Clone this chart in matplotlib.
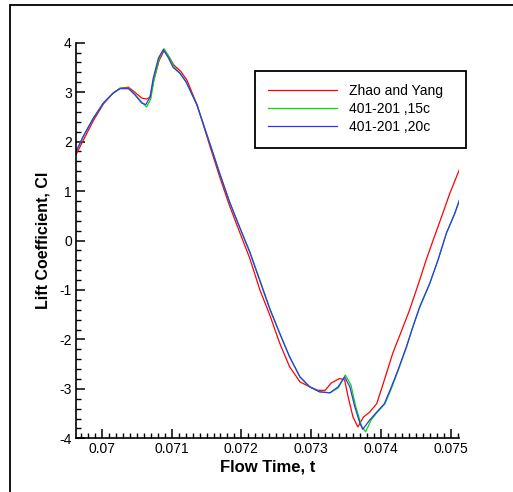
import matplotlib.pyplot as plt
import matplotlib.patches as patches
from matplotlib.ticker import MultipleLocator

plt.rcParams['font.family'] = ['Liberation Sans', 'DejaVu Sans']
plt.rcParams['axes.unicode_minus'] = False

# Zhao and Yang (red)
t_red = [0.06963, 0.06973, 0.069875, 0.07002, 0.07016, 0.07026, 0.07038, 0.07047,
         0.07057, 0.07064, 0.07069, 0.07074, 0.07082, 0.07089, 0.07096, 0.07103,
         0.07113, 0.07122, 0.07137, 0.07155, 0.07169, 0.07183, 0.07198, 0.07212,
         0.07226, 0.07241, 0.07255, 0.07269, 0.07284, 0.07298, 0.07310, 0.07320,
         0.07329, 0.07341, 0.07348, 0.07353, 0.07360, 0.07367, 0.07375, 0.07384,
         0.07394, 0.07405, 0.07417, 0.07432, 0.07441, 0.074556, 0.07465, 0.07475,
         0.07487, 0.07499, 0.07513]
cl_red = [1.74, 2.02, 2.42, 2.76, 2.98, 3.08, 3.10, 3.00,
          2.88, 2.86, 2.90, 3.22, 3.64, 3.84, 3.72, 3.55,
          3.42, 3.24, 2.72, 1.90, 1.28, 0.70, 0.15, -0.36,
          -0.98, -1.52, -2.08, -2.55, -2.86, -2.96, -3.03, -3.03,
          -2.88, -2.79, -2.82, -3.16, -3.57, -3.77, -3.57, -3.47,
          -3.30, -2.82, -2.28, -1.74, -1.41, -0.80, -0.39, 0.01,
          0.48, 0.96, 1.45]

# 401-201, 15c (green)
t_green = [0.06963, 0.06973, 0.069875, 0.07002, 0.07016, 0.07026, 0.07038, 0.07047,
           0.07057, 0.07064, 0.07070, 0.070745, 0.07082, 0.07089, 0.07096, 0.07103,
           0.07112, 0.07121, 0.07136, 0.07155, 0.07169, 0.07183, 0.07198, 0.07212,
           0.07226, 0.07241, 0.07255, 0.07269, 0.07284, 0.07298, 0.07312, 0.07327,
           0.07339, 0.07349, 0.07357, 0.07364, 0.07372, 0.07378, 0.07386, 0.07395,
           0.07406, 0.07416, 0.07425, 0.07437, 0.07446, 0.074556, 0.07470, 0.07482,
           0.07494, 0.07506, 0.07513]
cl_green = [1.80, 2.10, 2.47, 2.78, 2.98, 3.08, 3.08, 2.96,
            2.80, 2.70, 2.86, 3.24, 3.68, 3.88, 3.72, 3.52,
            3.38, 3.20, 2.75, 1.95, 1.35, 0.78, 0.25, -0.22,
            -0.78, -1.38, -1.88, -2.35, -2.76, -2.96, -3.06, -3.08,
            -2.98, -2.72, -2.92, -3.36, -3.74, -3.87, -3.63, -3.47,
            -3.30, -2.96, -2.62, -2.15, -1.74, -1.36, -0.87, -0.39,
            0.15, 0.55, 0.82]

# 401-201, 20c (blue)
t_blue = [0.06963, 0.06973, 0.069875, 0.07002, 0.07016, 0.07026, 0.07038, 0.07047,
          0.07057, 0.07063, 0.07069, 0.070735, 0.07081, 0.07088, 0.07095, 0.07102,
          0.07112, 0.07121, 0.07136, 0.07155, 0.07169, 0.07183, 0.07198, 0.07212,
          0.07226, 0.07241, 0.07255, 0.07269, 0.07284, 0.07298, 0.07312, 0.07327,
          0.073385, 0.07348, 0.073555, 0.073625, 0.07370, 0.07374, 0.07384, 0.07394,
          0.07405, 0.07415, 0.074245, 0.074365, 0.07446, 0.074556, 0.07470, 0.07482,
          0.07494, 0.07506, 0.07513]
cl_blue = [1.80, 2.10, 2.47, 2.78, 2.98, 3.07, 3.07, 2.95,
           2.78, 2.75, 2.90, 3.28, 3.69, 3.86, 3.70, 3.50,
           3.38, 3.20, 2.75, 1.95, 1.35, 0.78, 0.25, -0.24,
           -0.80, -1.40, -1.88, -2.35, -2.76, -2.96, -3.06, -3.08,
           -2.96, -2.76, -2.96, -3.36, -3.70, -3.82, -3.63, -3.47,
           -3.30, -2.96, -2.62, -2.15, -1.74, -1.34, -0.87, -0.39,
           0.15, 0.55, 0.84]

x_ticks = [0.070, 0.071, 0.072, 0.073, 0.074, 0.075]
x_tick_labels = ['0.07', '0.071', '0.072', '0.073', '0.074', '0.075']
y_ticks = [-4, -3, -2, -1, 0, 1, 2, 3, 4]

fig = plt.figure(figsize=(5.13, 4.92), dpi=100)
ax = fig.add_axes([76 / 513, 1 - 438.3 / 492, 383 / 513, 395.6 / 492])

ax.plot(t_red, cl_red, color='#ff0000', lw=0.9, label='Zhao and Yang')
ax.plot(t_green, cl_green, color='#00dd00', lw=0.9, label='401-201 ,15c')
ax.plot(t_blue, cl_blue, color='#3333ff', lw=0.9, label='401-201 ,20c')

ax.set_xlim(0.069628, 0.07512)
ax.set_ylim(-4, 4)
ax.set_xticks(x_ticks)
ax.set_xticklabels(x_tick_labels)
ax.set_yticks(y_ticks)
ax.xaxis.set_minor_locator(MultipleLocator(0.0001))
ax.yaxis.set_minor_locator(MultipleLocator(0.2))

for s in ['top', 'right']:
    ax.spines[s].set_visible(False)
for s in ['left', 'bottom']:
    ax.spines[s].set_linewidth(1.2)

ax.tick_params(which='major', direction='in', length=6.5, width=1.1,
               labelsize=10, pad=3)
ax.tick_params(which='minor', direction='in', length=3.8, width=1.0)

ax.set_xlabel('Flow Time, t', fontsize=12, fontweight='bold', labelpad=2)
ax.set_ylabel('Lift Coefficient, Cl', fontsize=11.5, fontweight='bold', labelpad=6)

leg = ax.legend(loc='upper left', bbox_to_anchor=(0.467, 0.929, 0.551, 0.0),
                mode='expand', fontsize=10, handlelength=5.0, handletextpad=0.85,
                labelspacing=0.3, borderpad=0.95, fancybox=False, framealpha=1,
                borderaxespad=0)
leg.get_frame().set_edgecolor('black')
leg.get_frame().set_linewidth(1.3)

# outer frame, cut off at the right and bottom edges
frame = patches.Rectangle((10 / 513, -0.1), 1.2, 1 - 5 / 492 + 0.1,
                          transform=fig.transFigure, fill=False,
                          edgecolor='black', linewidth=1.3)
fig.add_artist(frame)

fig.savefig('out.png', dpi=100)
plt.close()
